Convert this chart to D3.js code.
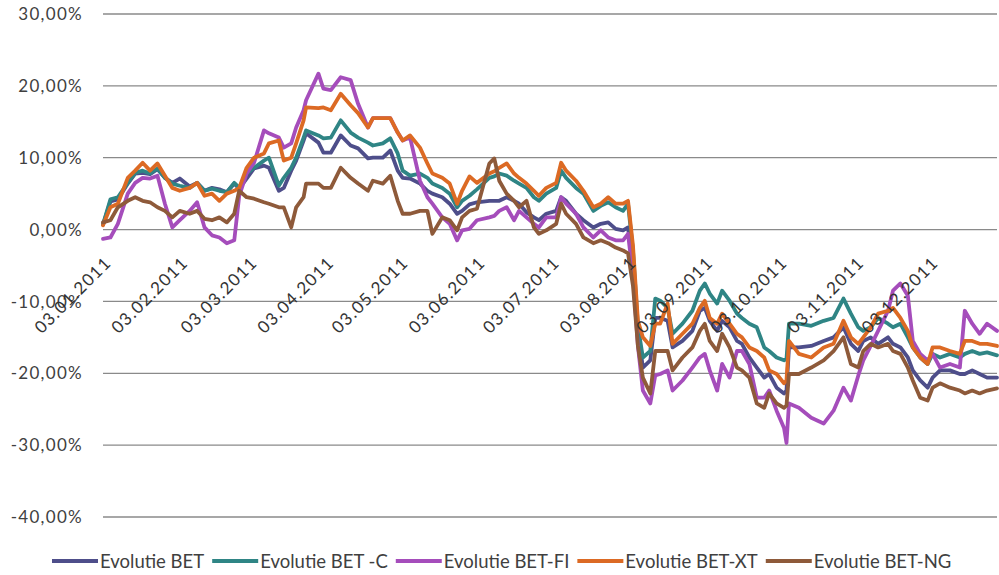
<!DOCTYPE html>
<html>
<head>
<meta charset="utf-8">
<script src="https://cdn.jsdelivr.net/npm/d3@7/dist/d3.min.js"></script>
<style>
  body { margin: 0; background: #fff; }
  svg { display: block; }
  text { font-family: Lato, "Open Sans", sans-serif; }
</style>
</head>
<body>
<script>
// dates of the sampled points (2011)
var dates = ["2011-01-03","2011-01-06","2011-01-09","2011-01-13","2011-01-16","2011-01-19","2011-01-22","2011-01-25","2011-01-28","2011-01-31",
  "2011-02-03","2011-02-07","2011-02-10","2011-02-13","2011-02-16","2011-02-19","2011-02-22","2011-02-25","2011-02-27","2011-03-02",
  "2011-03-05","2011-03-09","2011-03-11","2011-03-15","2011-03-17","2011-03-20","2011-03-22","2011-03-25","2011-03-26","2011-03-31",
  "2011-04-02","2011-04-05","2011-04-09","2011-04-13","2011-04-16","2011-04-20","2011-04-22","2011-04-26","2011-04-29","2011-05-02",
  "2011-05-04","2011-05-07","2011-05-11","2011-05-14","2011-05-16","2011-05-20","2011-05-23","2011-05-26","2011-05-28","2011-05-31",
  "2011-06-03","2011-06-08","2011-06-10","2011-06-12","2011-06-15","2011-06-18","2011-06-20","2011-06-23","2011-06-26","2011-06-28",
  "2011-07-01","2011-07-05","2011-07-07","2011-07-09","2011-07-13","2011-07-16","2011-07-20","2011-07-23","2011-07-26","2011-07-29",
  "2011-08-01","2011-08-03","2011-08-05","2011-08-07","2011-08-09","2011-08-12","2011-08-14","2011-08-16","2011-08-19","2011-08-21",
  "2011-08-25","2011-08-29","2011-09-01","2011-09-03","2011-09-05","2011-09-08","2011-09-10","2011-09-13","2011-09-16","2011-09-18",
  "2011-09-21","2011-09-24","2011-09-27","2011-09-29","2011-10-02","2011-10-05","2011-10-06","2011-10-07","2011-10-11","2011-10-16",
  "2011-10-21","2011-10-25","2011-10-29","2011-11-01","2011-11-04","2011-11-06","2011-11-09","2011-11-12","2011-11-16","2011-11-18",
  "2011-11-21","2011-11-24","2011-11-26","2011-11-29","2011-12-02","2011-12-04","2011-12-07","2011-12-11","2011-12-15","2011-12-17",
  "2011-12-20","2011-12-23","2011-12-26","2011-12-30"];

// series values, in percent
var bet = [0.7,3.9,4.2,6.4,7.8,7.9,7.7,8.4,7.2,6.5, 7.1,6.0,6.5,5.4,5.8,5.6,5.2,6.4,5.7,7.1,
  8.5,8.9,8.6,5.4,5.8,8.2,9.6,12.4,13.4,12.1, 10.7,10.7,13.1,11.7,11.3,9.9,10.0,10.0,11.0,8.2,
  7.2,7.1,6.4,5.4,5.0,4.5,3.6,2.2,2.6,3.5, 3.8,4.0,4.0,4.0,4.5,4.0,3.6,2.4,1.7,1.3,
  2.2,2.6,4.5,4.0,2.2,1.3,0.3,0.8,1.0,0.1, -0.1,0.3,-5.0,-14.1,-19.2,-18.2,-12.3,-12.3,-12.7,-16.4,
  -15.5,-14.1,-11.3,-10.9,-12.7,-14.1,-12.7,-13.6,-15.5,-15.9, -17.8,-19.2,-20.6,-20.1,-22.0,-22.8,-22.4,-16.4,-16.4,-16.2,
  -15.5,-15.0,-13.6,-15.9,-16.9,-15.5,-15.0,-15.9,-15.0,-15.9, -16.4,-17.8,-19.6,-21.0,-22.0,-20.6,-19.6,-19.6,-20.1,-20.1,
  -19.6,-20.1,-20.6,-20.6];
var betC = [0.7,4.2,4.5,6.5,7.9,8.2,7.8,8.5,7.2,6.4, 6.1,5.8,6.5,5.4,5.7,5.4,5.2,6.5,5.8,7.8,
  8.6,9.6,10.0,6.1,7.2,8.6,10.0,12.8,13.8,13.1, 12.7,12.8,15.2,13.5,12.8,12.1,11.7,12.0,12.7,10.6,
  8.2,7.5,7.8,7.2,6.4,5.8,5.0,3.1,4.0,4.7, 5.6,7.2,7.4,7.8,7.5,6.8,6.4,5.8,4.5,4.0,
  5.0,5.8,8.2,7.2,5.8,5.0,2.6,3.3,3.8,3.1, 2.6,3.6,-2.9,-13.4,-17.8,-16.9,-9.6,-9.9,-10.9,-14.5,
  -13.1,-11.3,-8.5,-7.5,-8.9,-10.3,-8.5,-9.9,-11.7,-12.3, -13.1,-13.6,-16.4,-16.9,-17.8,-18.2,-18.0,-13.1,-13.1,-13.4,
  -12.7,-12.3,-9.6,-11.7,-13.6,-14.1,-13.6,-12.3,-13.1,-13.6, -13.1,-15.0,-16.4,-17.8,-18.7,-17.3,-17.8,-17.3,-17.8,-17.3,
  -16.9,-17.3,-17.1,-17.5];
var betFI = [-1.3,-1.1,0.8,5.0,6.5,7.2,7.1,7.5,3.6,0.3, 1.3,2.6,3.8,0.3,-0.8,-1.1,-1.9,-1.5,4.7,7.8,
  9.3,13.8,13.4,12.8,11.4,12.0,14.2,16.6,18.0,21.7, 19.6,19.4,21.2,20.8,17.5,14.2,15.5,15.5,15.5,13.5,
  12.4,12.8,6.8,4.5,3.6,1.7,0.8,-1.5,-0.1,0.1, 1.3,1.7,1.9,2.6,3.1,1.3,2.6,1.7,0.8,0.3,
  1.7,1.7,4.5,3.6,2.2,0.3,-1.1,-0.1,-1.1,-1.5, -1.5,-0.6,-6.4,-16.2,-22.4,-24.2,-20.3,-20.1,-19.6,-22.4,
  -21.0,-19.2,-17.8,-17.3,-19.6,-22.4,-18.7,-20.6,-16.9,-16.9, -18.7,-23.4,-23.4,-22.4,-25.2,-27.6,-29.7,-24.2,-24.8,-26.2,
  -27.0,-25.2,-22.0,-23.8,-20.3,-18.2,-16.2,-14.1,-11.3,-8.5, -7.5,-9.2,-15.5,-17.3,-18.2,-17.3,-19.2,-18.7,-19.2,-11.3,
  -13.1,-14.5,-13.1,-14.1];
var betXT = [0.6,3.1,3.6,7.2,8.2,9.3,8.2,9.2,7.5,5.8, 5.4,5.8,6.5,4.7,5.0,4.0,5.0,5.4,5.8,8.6,
  10.0,10.6,12.0,12.4,9.6,10.0,12.0,15.2,17.0,16.9, 17.0,16.6,18.9,17.3,16.2,14.2,15.5,15.5,15.5,13.5,
  12.4,13.1,11.4,9.2,7.8,7.2,6.4,3.6,5.4,7.4, 6.5,7.8,8.1,8.6,9.2,7.8,7.2,6.4,5.4,4.7,
  5.8,6.5,9.3,8.2,6.8,5.4,3.1,3.6,4.5,3.6, 3.6,4.0,-2.2,-12.7,-15.0,-16.2,-13.1,-13.1,-10.3,-15.9,
  -14.5,-13.1,-10.9,-9.9,-12.3,-13.1,-11.7,-13.1,-14.5,-15.0, -16.4,-16.9,-17.8,-19.6,-20.1,-21.4,-21.0,-15.5,-17.3,-17.8,
  -16.4,-15.9,-12.7,-15.0,-15.9,-15.0,-13.6,-11.7,-11.3,-10.9, -12.3,-14.1,-16.4,-17.8,-18.7,-16.4,-16.4,-16.9,-17.3,-15.5,
  -15.5,-15.9,-15.9,-16.2];
var betNG = [1.0,1.3,3.1,4.0,4.5,4.0,3.8,3.1,2.6,1.7, 2.6,2.2,2.6,1.5,1.3,1.7,1.0,2.2,5.4,4.5,
  4.3,3.8,3.6,3.1,3.1,0.3,3.1,4.5,6.4,6.4, 5.8,5.8,8.6,7.2,6.4,5.4,6.8,6.4,7.5,4.0,
  2.2,2.2,2.6,2.6,-0.6,1.7,1.3,-0.1,1.7,2.6, 2.9,9.2,9.9,6.8,5.0,4.0,3.1,4.0,0.3,-0.6,
  -0.1,0.8,3.6,2.2,0.8,-1.1,-1.9,-1.5,-1.9,-2.5, -2.9,-3.3,-7.8,-16.2,-20.6,-22.8,-16.9,-16.9,-16.9,-19.6,
  -17.8,-16.4,-14.1,-13.1,-15.5,-16.9,-14.5,-16.4,-19.2,-19.6, -20.6,-24.2,-24.8,-22.8,-24.2,-24.8,-24.5,-20.1,-20.1,-19.2,
  -18.2,-16.9,-15.0,-18.7,-19.2,-16.9,-15.9,-16.4,-15.9,-16.9, -17.3,-19.2,-21.0,-23.4,-23.8,-22.0,-21.4,-22.0,-22.4,-22.8,
  -22.4,-22.8,-22.4,-22.1];

var seriesNames = ["Evolutie BET", "Evolutie BET -C", "Evolutie BET-FI", "Evolutie BET-XT", "Evolutie BET-NG"];
var seriesColors = ["#4e4e8a", "#2f8585", "#a54dbb", "#dc6a24", "#8e5a3a"];
var yTicks = [30, 20, 10, 0, -10, -20, -30, -40];
var xTickLabels = ["03.01.2011","03.02.2011","03.03.2011","03.04.2011","03.05.2011","03.06.2011",
  "03.07.2011","03.08.2011","03.09.2011","03.10.2011","03.11.2011","03.12.2011"];

var W = 999, H = 575;
var svg = d3.select("body").append("svg")
    .attr("width", W)
    .attr("height", H);

var parseDate = d3.timeParse("%Y-%m-%d");
var parseLabel = d3.timeParse("%d.%m.%Y");
var ro = d3.formatLocale({decimal: ",", thousands: ".", grouping: [3], currency: ["", ""], minus: "-"});
var pct = ro.format(".2%");

var x = d3.scaleTime()
    .domain([parseDate("2011-01-03"), parseDate("2011-12-30")])
    .range([103, 997]);
var y = d3.scaleLinear()
    .domain([-40, 30])
    .range([517, 14]);

// gridlines
svg.selectAll("line.grid")
    .data(yTicks)
    .enter().append("line")
    .attr("class", "grid")
    .attr("x1", 103).attr("x2", 997)
    .attr("y1", function(d) { return y(d); })
    .attr("y2", function(d) { return y(d); })
    .attr("stroke", "#8a8a8a")
    .attr("stroke-width", 1.3);

// y labels
svg.selectAll("text.ylab")
    .data(yTicks)
    .enter().append("text")
    .attr("class", "ylab")
    .attr("x", 83)
    .attr("y", function(d) { return y(d); })
    .attr("dy", "0.36em")
    .attr("text-anchor", "end")
    .attr("font-size", 17)
    .attr("letter-spacing", 1.3)
    .attr("fill", "#404040")
    .text(function(d) { return pct(d / 100); });

// lines
var allSeries = [bet, betC, betFI, betXT, betNG];
var line = d3.line()
    .x(function(d, i) { return x(parseDate(dates[i])); })
    .y(function(d) { return y(d); });

svg.selectAll("path.series")
    .data(allSeries)
    .enter().append("path")
    .attr("class", "series")
    .attr("d", line)
    .attr("fill", "none")
    .attr("stroke", function(d, i) { return seriesColors[i]; })
    .attr("stroke-width", 3.8)
    .attr("stroke-linejoin", "round")
    .attr("stroke-linecap", "round");

// x labels, rotated, sitting under the 0 line
svg.selectAll("text.xlab")
    .data(xTickLabels)
    .enter().append("text")
    .attr("class", "xlab")
    .attr("text-anchor", "end")
    .attr("font-size", 17)
    .attr("letter-spacing", 1.3)
    .attr("fill", "#333")
    .attr("dy", "0.36em")
    .attr("transform", function(d) {
        return "translate(" + (x(parseLabel(d)) + 5) + "," + (y(0) + 30) + ") rotate(-45)";
    })
    .text(function(d) { return d; });

// legend
var legend = svg.append("g").attr("class", "legend");
var lx = 52;
seriesNames.forEach(function(name, i) {
    legend.append("line")
        .attr("x1", lx).attr("x2", lx + 46)
        .attr("y1", 561).attr("y2", 561)
        .attr("stroke", seriesColors[i])
        .attr("stroke-width", 4);
    var t = legend.append("text")
        .attr("x", lx + 48)
        .attr("y", 561)
        .attr("dy", "0.36em")
        .attr("font-size", 18.5)
        .attr("fill", "#404040")
        .text(name);
    lx += 48 + t.node().getComputedTextLength() + 8;
});
</script>
</body>
</html>
